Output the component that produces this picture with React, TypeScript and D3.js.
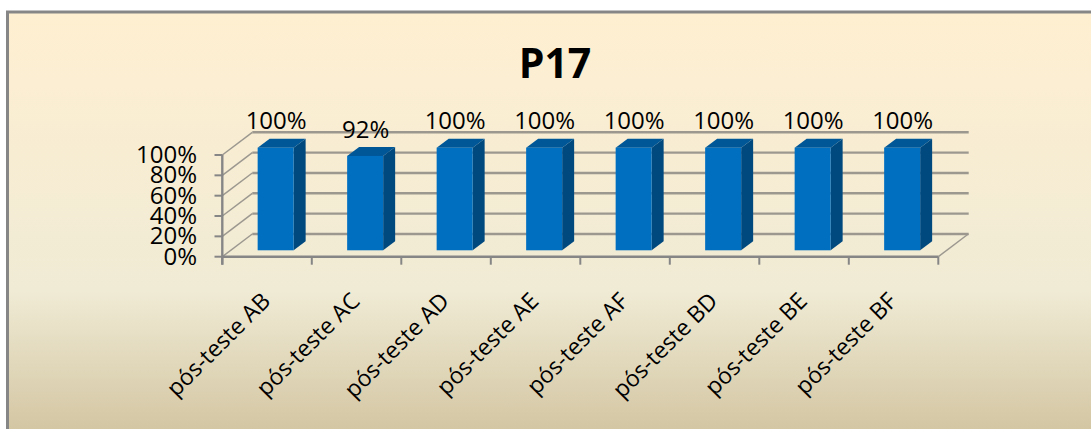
import React from "react";
import * as d3 from "d3";

const categories = ["pós-teste AB","pós-teste AC","pós-teste AD","pós-teste AE","pós-teste AF","pós-teste BD","pós-teste BE","pós-teste BF"];
const values = [1,0.92,1,1,1,1,1,1];
const ticks = [0,0.2,0.4,0.6,0.8,1];
const W = 1091, H = 429;
const font = "'Open Sans', sans-serif";

export default function App() {
  const x = d3.scaleBand<string>().domain(categories).range([222.3,938.3]);
  const y = d3.scaleLinear().domain([0,1]).range([256.7,155]);
  const barY = d3.scaleLinear().domain([0,1]).range([250.3,147.7]);
  const dx = 30, dy = -22.7, bw = 36, bdx = 12, bdy = -9, shift = 8.6;
  const pct = d3.format(".0%");
  return (
    <svg width={W} height={H} style={{position:"absolute",left:0,top:0,display:"block"}}>
      <defs>
        <linearGradient id="bg" x1="0" y1="0" x2="0" y2="1">
          <stop offset="0" stopColor="#FFEFD1"/>
          <stop offset="0.65" stopColor="#F0EBD5"/>
          <stop offset="1" stopColor="#D1C39F"/>
        </linearGradient>
      </defs>
      <rect width={W} height={H} fill="#fff"/>
      <rect x={7.5} y={12} width={W} height={H} fill="url(#bg)" stroke="#868686" strokeWidth={3}/>
      <text x={555} y={78} textAnchor="middle" fontFamily={font} fontWeight={700} fontSize={41} fill="#000">P17</text>
      {ticks.map(t => (
        <g key={t}>
          <line x1={x.range()[0]+dx} x2={x.range()[1]+dx+0.4} y1={y(t)+dy} y2={y(t)+dy} stroke="#9C9890" strokeWidth={2.4}/>
          <line x1={x.range()[0]} x2={x.range()[0]+dx} y1={y(t)} y2={y(t)+dy} stroke="#9C9890" strokeWidth={1.5}/>
          <line x1={214.5} x2={222.3} y1={y(t)} y2={y(t)} stroke="#868686" strokeWidth={2}/>
          <text x={197} y={y(t)+8} textAnchor="end" fontFamily={font} fontSize={24} fill="#000">{pct(t)}</text>
        </g>
      ))}
      <line x1={x.range()[1]} x2={x.range()[1]+dx} y1={y(0)} y2={y(0)+dy} stroke="#9C9890" strokeWidth={1.5}/>
      <line x1={222.3} x2={222.3} y1={y(1)} y2={y(0)+8} stroke="#868686" strokeWidth={2.4}/>
      <line x1={222.3} x2={938.3} y1={y(0)} y2={y(0)} stroke="#868686" strokeWidth={2.4}/>
      {categories.map((c,i) => {
        const x0 = x(c)!;
        const l = x0 + x.bandwidth()/2 - bw/2 + shift;
        const r = l + bw;
        const top = barY(values[i]), bot = barY(0);
        return (
          <g key={c}>
            <line x1={x0} x2={x0} y1={y(0)} y2={y(0)+8} stroke="#868686" strokeWidth={2}/>
            <polygon points={`${r},${bot} ${r+bdx},${bot+bdy} ${r+bdx},${top+bdy} ${r},${top}`} fill="#00497F"/>
            <polygon points={`${l},${top} ${l+bdx},${top+bdy} ${r+bdx},${top+bdy} ${r},${top}`} fill="#005797"/>
            <rect x={l} y={top} width={bw} height={bot-top} fill="#006FC0"/>
            <text x={l+bw/2+0.5} y={top-18.4} textAnchor="middle" fontFamily={font} fontSize={24} fill="#000">{pct(values[i])}</text>
            <text transform={`translate(${x0+x.bandwidth()/2+4.6},${302.5}) rotate(-45)`} textAnchor="end" fontFamily={font} fontSize={23} fill="#000">{c}</text>
          </g>
        );
      })}
      <line x1={938.3} x2={938.3} y1={y(0)} y2={y(0)+8} stroke="#868686" strokeWidth={2}/>
    </svg>
  );
}
